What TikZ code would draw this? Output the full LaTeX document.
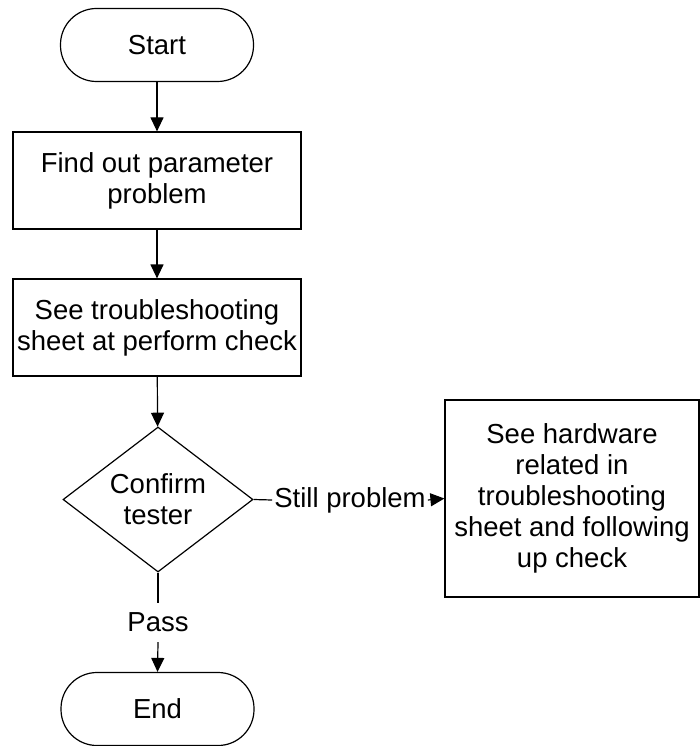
\documentclass[tikz,border=0pt]{standalone}
\usepackage{fontspec}
\setmainfont{Liberation Sans}
\usetikzlibrary{shapes.geometric,arrows.meta}
\begin{document}
\begin{tikzpicture}[x=1pt,y=-1pt,
  every node/.style={font=\fontsize{27.5pt}{31pt}\selectfont, align=center},
  term/.style={draw, line width=1.2pt, rectangle, rounded corners=36pt, minimum width=193pt, minimum height=73pt, inner sep=0pt},
  procbox/.style={draw, line width=1.2pt, rectangle, inner sep=0pt},
  decide/.style={draw, line width=1.2pt, diamond, aspect=1.31, inner sep=0pt, minimum width=190pt, minimum height=145pt},
  lbl/.style={inner xsep=2pt, inner ysep=0pt},
  conn/.style={line width=1.2pt},
  arr/.style={line width=1.2pt, -{Triangle[length=14pt,width=13pt]}}
]
\useasboundingbox (0,0) rectangle (700,746);
\node[term] (start) at (157,45) {Start};
\node[procbox, minimum width=288pt, minimum height=97pt] (b1) at (157,180.5) {Find out parameter\\problem};
\node[procbox, minimum width=288pt, minimum height=97pt] (b2) at (157,327.5) {See troubleshooting\\sheet at perform check};
\node[decide] (d) at (158,499.5) {Confirm\\tester};
\node[procbox, minimum width=254pt, minimum height=197pt] (b3) at (572,498.5) {See hardware\\related in\\troubleshooting\\sheet and following\\up check};
\node[lbl] (still) at (350,500) {Still problem};
\node[inner xsep=2pt, inner ysep=0pt, minimum height=39pt] (pass) at (158,622.5) {Pass};
\node[term] (end) at (157.5,709) {End};
\draw[arr] (start) -- (b1);
\draw[arr] (b1) -- (b2);
\draw[arr] (b2) -- (d);
\draw[conn] (d.east) -- (still.west);
\draw[arr] (still.east) -- (b3.west);
\draw[conn] (d.south) -- (pass.north);
\draw[arr] (pass.south) -- (end.north);
\end{tikzpicture}
\end{document}
